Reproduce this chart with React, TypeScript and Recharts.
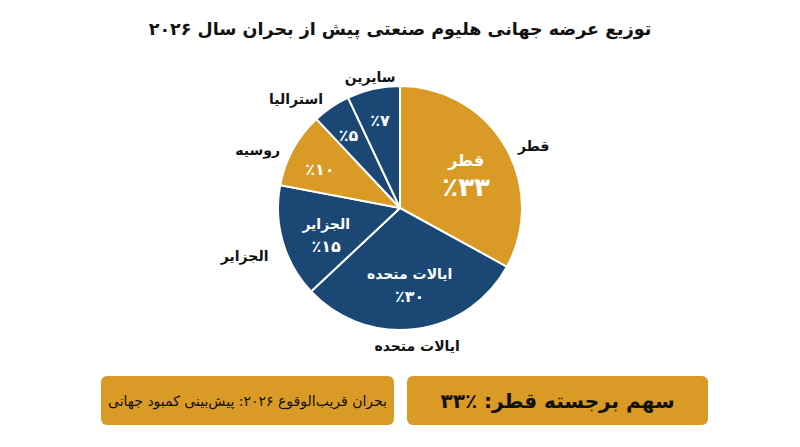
import { PieChart, Pie, Cell } from "recharts";

const countries = ["قطر", "ایالات متحده", "الجزایر", "روسیه", "استرالیا", "سایرین"];
const shares = [33, 30, 15, 10, 5, 7];
const sliceColors = ["#D99A26", "#1B4775", "#1B4775", "#D99A26", "#1B4775", "#1B4775"];
// slices that also show their name inside
const namedInside = ["قطر", "ایالات متحده", "الجزایر"];

const data = countries.map((name, i) => ({ name, value: shares[i] }));

const FONT = "'DejaVu Sans', sans-serif";
const RADIAN = Math.PI / 180;
const faDigits = "۰۱۲۳۴۵۶۷۸۹";
const toFa = (n: number) => String(n).replace(/\d/g, (d) => faDigits[Number(d)]);

const renderLabel = (props: any) => {
  const { cx, cy, midAngle, outerRadius, percent, name, value } = props;
  const cos = Math.cos(-midAngle * RADIAN);
  const sin = Math.sin(-midAngle * RADIAN);

  const inR = outerRadius * (percent < 0.12 ? 0.75 : 0.63);
  const ix = cx + inR * cos;
  const iy = cy + inR * sin + 6 * Math.abs(cos);

  const outR = outerRadius + 15;
  const ox = cx + outR * cos;
  const oy = cy + outR * sin + 2 + 8 * cos * cos;
  const anchor = Math.abs(cos) < 0.3 ? "middle" : cos > 0 ? "start" : "end";

  const big = name === "قطر";
  const showName = namedInside.includes(name);

  return (
    <g fontFamily={FONT} fontWeight="bold">
      {showName ? (
        <>
          <text x={ix} y={iy - (big ? 14 : 11)} fill="#fff" fontSize={big ? 16 : 14} textAnchor="middle" dominantBaseline="central">
            {name}
          </text>
          <text x={ix} y={iy + (big ? 13 : 11)} fill="#fff" fontSize={big ? 26 : 16} textAnchor="middle" dominantBaseline="central">
            {"٪" + toFa(value)}
          </text>
        </>
      ) : (
        <text x={ix} y={iy} fill="#fff" fontSize={16} textAnchor="middle" dominantBaseline="central">
          {"٪" + toFa(value)}
        </text>
      )}
      <text x={ox} y={oy} fill="#111" fontSize={14} textAnchor={anchor} dominantBaseline="central">
        {name}
      </text>
    </g>
  );
};

const boxStyle = {
  position: "absolute" as const,
  top: 376,
  height: 49,
  background: "#D99A26",
  borderRadius: 6,
  display: "flex",
  alignItems: "center",
  justifyContent: "center",
  fontFamily: FONT,
  color: "#111",
};

export default function App() {
  return (
    <div style={{ position: "absolute", left: 0, top: 0, width: 800, height: 447, background: "#fff", overflow: "hidden" }}>
      <div
        dir="rtl"
        style={{ position: "absolute", top: 19, left: 0, width: 800, textAlign: "center", fontFamily: FONT, fontWeight: "bold", fontSize: 17.5, color: "#111" }}
      >
        توزیع عرضه جهانی هلیوم صنعتی پیش از بحران سال ۲۰۲۶
      </div>
      <div style={{ position: "absolute", top: 0, left: 0 }}>
        <PieChart width={800} height={370} margin={{ top: 0, right: 0, bottom: 0, left: 0 }}>
          <Pie
            data={data}
            dataKey="value"
            nameKey="name"
            cx={400}
            cy={208}
            outerRadius={122}
            startAngle={90}
            endAngle={-270}
            stroke="#fff"
            strokeWidth={2}
            label={renderLabel}
            labelLine={false}
            isAnimationActive={false}
          >
            {data.map((d, i) => (
              <Cell key={d.name} fill={sliceColors[i]} />
            ))}
          </Pie>
        </PieChart>
      </div>
      <div dir="rtl" style={{ ...boxStyle, left: 101, width: 293, fontSize: 14 }}>
        بحران قریب‌الوقوع ۲۰۲۶: پیش‌بینی کمبود جهانی
      </div>
      <div dir="rtl" style={{ ...boxStyle, left: 407, width: 301, fontSize: 20, fontWeight: "bold" }}>
        سهم برجسته قطر: ٪۳۳
      </div>
    </div>
  );
}
